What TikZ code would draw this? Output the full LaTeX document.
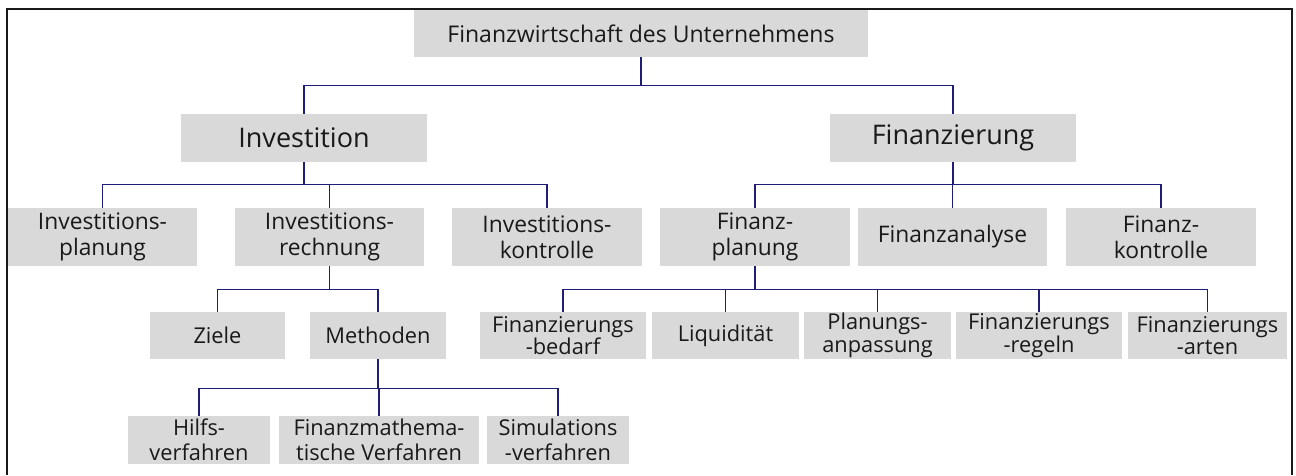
\documentclass[tikz,border=0pt]{standalone}
\usepackage{fontspec}
\setmainfont{Open Sans}
\definecolor{boxgray}{HTML}{D9D9D9}
\definecolor{linkblue}{HTML}{1E1E78}
\begin{document}
\begin{tikzpicture}[x=1pt,y=-1pt,
  box/.style 2 args={fill=boxgray, inner sep=0pt, minimum width=#1, minimum height=#2, align=center, text=black!90},
  lvtop/.style={font=\fontsize{23}{27}\selectfont},
  lvone/.style={font=\fontsize{27}{31}\selectfont},
  lvtwo/.style={font=\fontsize{22.8}{26}\selectfont},
  lvthree/.style={font=\fontsize{21.8}{22.5}\selectfont},
  lvfour/.style={font=\fontsize{21.8}{25}\selectfont},
  link/.style={draw=linkblue, line width=1.3pt},
  frame/.style={draw=black!90, line width=2pt}]
\useasboundingbox (0,0) rectangle (1296,475);

% outer frame (open at the bottom)
\draw[frame] (7,475) -- (7,9) -- (1292,9) -- (1292,475);

% root
\node[box={454pt}{47pt}, lvtop] (root) at (641,33.5) {Finanzwirtschaft des Unternehmens};

% first level
\node[box={246pt}{48pt}, lvone] (inv) at (304,138) {Investition};
\node[box={246pt}{48pt}, lvone] (fin) at (953,138) {Finanzierung};

% second level
\node[box={189pt}{58pt}, lvtwo] (iplan) at (102.5,237) {Investitions-\\planung};
\node[box={189pt}{58pt}, lvtwo] (irech) at (329.5,237) {Investitions-\\rechnung};
\node[box={190pt}{58pt}, lvtwo] (ikon)  at (547,237)   {Investitions-\\kontrolle};
\node[box={190pt}{58pt}, lvtwo] (fplan) at (755,237)   {Finanz-\\planung};
\node[box={189pt}{58pt}, lvtwo] (fana)  at (952.5,237) {Finanzanalyse};
\node[box={190pt}{58pt}, lvtwo] (fkon)  at (1161,237)  {Finanz-\\kontrolle};

% third level
\node[box={135pt}{47pt}, lvthree] (ziele) at (217.5,335.5) {Ziele};
\node[box={136pt}{47pt}, lvthree] (meth)  at (378,335.5)   {Methoden};
\node[box={166pt}{47pt}, lvthree] (fbed)  at (563,335.5)   {Finanzierungs\\-bedarf};
\node[box={147pt}{47pt}, lvthree] (liq)   at (725.5,335.5) {Liquidität};
\node[box={147pt}{47pt}, lvthree] (panp)  at (877.5,335.5) {Planungs-\\anpassung};
\node[box={166pt}{47pt}, lvthree] (freg)  at (1039,335.5)  {Finanzierungs\\-regeln};
\node[box={159pt}{47pt}, lvthree] (fart)  at (1207.5,335.5){Finanzierungs\\-arten};

% fourth level
\node[box={142pt}{48pt}, lvfour] (hilf)  at (199,440) {Hilfs-\\verfahren};
\node[box={200pt}{48pt}, lvfour] (fmath) at (379,440) {Finanzmathema-\\tische Verfahren};
\node[box={142pt}{48pt}, lvfour] (sim)   at (558,440) {Simulations\\-verfahren};

% connectors
\foreach \c in {inv,fin}
  \draw[link] (root.south) -- ++(0,28) -| (\c.north);
\foreach \c in {iplan,irech,ikon}
  \draw[link] (inv.south) -- ++(0,22) -| (\c.north);
\foreach \c in {fplan,fana,fkon}
  \draw[link] (fin.south) -- ++(0,22) -| (\c.north);
\foreach \c in {ziele,meth}
  \draw[link] (irech.south) -- ++(0,23) -| (\c.north);
\foreach \c in {hilf,fmath,sim}
  \draw[link] (meth.south) -- ++(0,29) -| (\c.north);
\foreach \c in {fbed,liq,panp,freg,fart}
  \draw[link] (fplan.south) -- ++(0,23) -| (\c.north);
\end{tikzpicture}
\end{document}
